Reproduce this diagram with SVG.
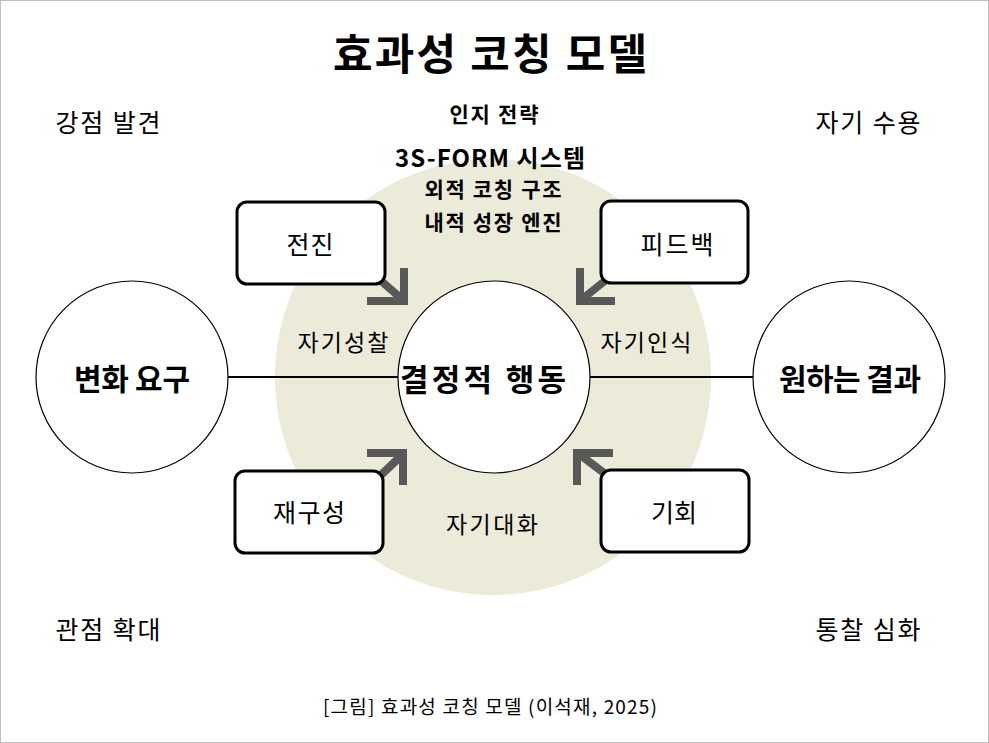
<svg xmlns="http://www.w3.org/2000/svg" width="989" height="743" viewBox="0 0 989 743">
<style>
text{font-family:"Noto Sans CJK KR","Noto Sans",sans-serif;fill:#000;text-anchor:middle;dominant-baseline:central}
.b{font-weight:bold}
.box{fill:#fff;stroke:#000;stroke-width:3}
.circ{fill:#fff;stroke:#000;stroke-width:1.2}
.arr{fill:none;stroke:#595959;stroke-width:8;stroke-linejoin:miter}
.con{stroke:#000;stroke-width:2}
</style>
<rect x="0.5" y="0.5" width="988" height="742" fill="#fff" stroke="#bfbfbf"/>
<text x="490" y="51" class="b" style="font-size:43px" textLength="314">효과성 코칭 모델</text>
<circle id="bg" cx="493" cy="377" r="218" fill="#ecead9"/>
<g id="corners" style="font-size:25px">
<text x="108" y="121" textLength="105">강점 발견</text>
<text x="868" y="121" textLength="105">자기 수용</text>
<text x="108" y="628" textLength="105">관점 확대</text>
<text x="868" y="628" textLength="105">통찰 심화</text>
</g>
<g id="header">
<text x="494" y="113" class="b" style="font-size:21px" textLength="89">인지 전략</text>
<text x="490" y="156" class="b" style="font-size:24px" textLength="190">3S-FORM 시스템</text>
<text x="493" y="188" class="b" style="font-size:21px" textLength="137">외적 코칭 구조</text>
<text x="493" y="221" class="b" style="font-size:21px" textLength="137">내적 성장 엔진</text>
</g>
<g id="connectors">
<line class="con" x1="228" y1="377" x2="398" y2="377"/>
<line class="con" x1="590" y1="377" x2="753" y2="377"/>
<line class="arr" x1="380" y1="280" x2="403" y2="300"/>
<polyline class="arr" points="367,301 404,301 404,268"/>
<line class="arr" x1="606" y1="280" x2="581" y2="300"/>
<polyline class="arr" points="615,301 580,301 580,268"/>
<line class="arr" x1="381" y1="475" x2="402" y2="455"/>
<polyline class="arr" points="367,453 403,453 403,485"/>
<line class="arr" x1="604" y1="473" x2="579" y2="454"/>
<polyline class="arr" points="613,453 577,453 577,485"/>
</g>
<g id="n-jeonjin"><rect class="box" x="237" y="202" width="148" height="82" rx="10"/><text x="310" y="243" style="font-size:25px" textLength="47">전진</text></g>
<g id="n-feedback"><rect class="box" x="601" y="201" width="147" height="82" rx="10"/><text x="677" y="243" style="font-size:25px" textLength="73">피드백</text></g>
<g id="n-restructure"><rect class="box" x="235" y="471" width="148" height="82" rx="10"/><text x="309" y="511" style="font-size:25px" textLength="72">재구성</text></g>
<g id="n-chance"><rect class="box" x="601" y="470" width="148" height="82" rx="10"/><text x="674" y="511" style="font-size:25px" textLength="46">기회</text></g>
<g id="labels" style="font-size:23px">
<text x="343" y="341" textLength="91">자기성찰</text>
<text x="646" y="341" textLength="91">자기인식</text>
<text x="492" y="523" textLength="92">자기대화</text>
</g>
<g id="n-change"><circle class="circ" cx="132" cy="377" r="96"/><text x="132" y="377" class="b" style="font-size:30px" textLength="116">변화 요구</text></g>
<g id="n-action"><circle class="circ" cx="494" cy="377" r="96"/><text x="483" y="377" class="b" style="font-size:31px" textLength="166">결정적 행동</text></g>
<g id="n-result"><circle class="circ" cx="849" cy="377" r="96"/><text x="850" y="377" class="b" style="font-size:30px" textLength="142">원하는 결과</text></g>
<text x="490" y="705" style="font-size:19px" textLength="334">[그림] 효과성 코칭 모델 (이석재, 2025)</text>
</svg>
